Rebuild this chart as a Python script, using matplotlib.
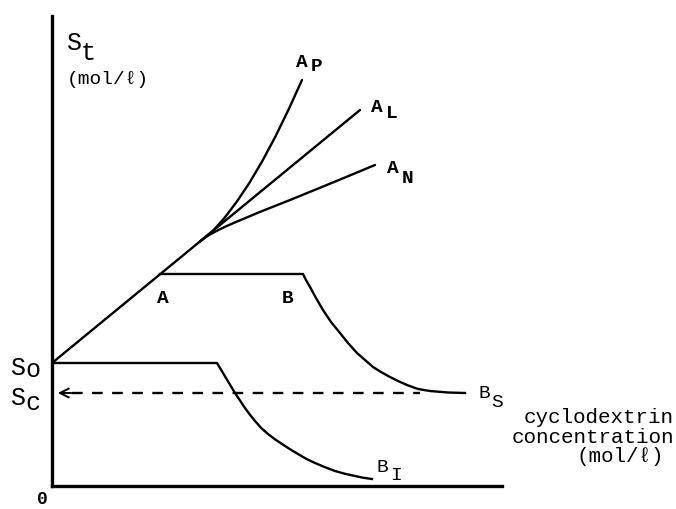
import numpy as np
import matplotlib
matplotlib.use("Agg")
import matplotlib.pyplot as plt

# Phase solubility diagram (schematic, arbitrary units)
S0 = 12.3          # intrinsic solubility
Sc = 9.3           # solubility of the complex

# A-type branches
AL_x = [0, 30.8]
AL_y = [S0, 37.6]
AP_x = [14.8, 16.01, 17.25, 18.50, 19.77, 21.05, 22.35, 23.66, 25.0]
AP_y = [24.46, 25.43, 26.81, 28.46, 30.36, 32.53, 34.96, 37.65, 40.6]
AN_x = [14.8, 15.3, 15.8, 16.5, 17.3, 18.3, 20.8, 23.8, 26.5, 29.3, 32.3]
AN_y = [24.46, 24.83, 25.15, 25.53, 25.92, 26.36, 27.41, 28.6, 29.7, 30.85, 32.1]

# B_S type: plateau A-B then drop to Sc
BS_x = [10.8, 25.1, 25.4, 25.8, 26.4, 27.1, 27.9, 28.8, 29.6, 30.5, 31.3, 32.1,
        32.9, 33.8, 34.6, 35.5, 36.6, 37.8, 39.6, 41.3]
BS_y = [21.2, 21.2, 20.6, 19.9, 18.8, 17.6, 16.4, 15.3, 14.3, 13.3, 12.6, 11.9,
        11.4, 10.9, 10.5, 10.1, 9.7, 9.5, 9.35, 9.3]

# B_I type: plateau at S0 then drop
BI_x = [0, 16.5, 16.95, 17.4, 17.85, 18.3, 18.8, 19.3, 19.8, 20.3, 20.9, 21.6, 22.3,
        23.0, 23.8, 24.6, 25.4, 26.3, 27.3, 28.3, 29.3, 30.3, 31.1, 32.0]
BI_y = [S0, S0, 11.55, 10.8, 10.05, 9.3, 8.55, 7.8, 7.12, 6.5, 5.82, 5.2, 4.67,
        4.2, 3.68, 3.2, 2.73, 2.3, 1.88, 1.5, 1.22, 1.0, 0.83, 0.7]

Sc_line_x = [0.3, 36.8]

fam = ['Liberation Mono', 'DejaVu Sans Mono']
plt.rcParams['font.family'] = fam

fig = plt.figure(figsize=(6.76, 5.09), dpi=100)
ax = fig.add_axes([52/676, 23/509, 450/676, 470/509])
ax.set_xlim(0, 45)
ax.set_ylim(0, 47)
for s in ['top', 'right']:
    ax.spines[s].set_visible(False)
for s in ['left', 'bottom']:
    ax.spines[s].set_linewidth(2.4)
ax.set_xticks([])
ax.set_yticks([])

lw = 1.7
ax.plot(AL_x, AL_y, color='k', lw=lw, solid_capstyle='round')
ax.plot(AP_x, AP_y, color='k', lw=lw, solid_capstyle='round')
ax.plot(AN_x, AN_y, color='k', lw=lw, solid_capstyle='round')
ax.plot(BS_x, BS_y, color='k', lw=lw, solid_joinstyle='round')
ax.plot(BI_x, BI_y, color='k', lw=lw, solid_joinstyle='round')

# dashed Sc line with arrow head at the axis
ax.plot([2.0, Sc_line_x[1]], [Sc, Sc], color='k', lw=1.7, ls=(0, (4.5, 4)))
ax.annotate('', xy=(Sc_line_x[0], Sc), xytext=(2.2, Sc),
            arrowprops=dict(arrowstyle='->', lw=1.4, color='k', mutation_scale=16))


def lab(x, y, main, sub, dx, dy, size=14, weight='bold'):
    ax.text(x, y, main, fontsize=size, fontweight=weight, ha='left', va='baseline',
            clip_on=False)
    if sub:
        ax.text(x + dx, y - dy, sub, fontsize=size, fontweight=weight, ha='left',
                va='baseline', clip_on=False)


lab(1.4, 43.6, 'S', 't', 1.5, 1.0, size=18, weight='normal')
ax.text(1.5, 40.2, '(mol/ℓ)', fontsize=14, ha='left', va='baseline', clip_on=False)
lab(24.4, 41.9, 'A', 'P', 1.5, 0.4)
lab(31.9, 37.4, 'A', 'L', 1.5, 0.6)
lab(33.5, 31.3, 'A', 'N', 1.5, 1.0)
lab(10.5, 18.3, 'A', None, 0, 0)
lab(23.0, 18.3, 'B', None, 0, 0)
lab(42.7, 8.8, 'B', 'S', 1.2, 0.9, size=14, weight='normal')
lab(32.4, 1.4, 'B', 'I', 1.4, 0.8, size=14, weight='normal')
lab(-4.2, 11.1, 'S', 'o', 1.5, 0.2, size=18, weight='normal')
lab(-4.2, 8.1, 'S', 'c', 1.5, 0.5, size=18, weight='normal')
ax.text(-1.5, -2.25, '0', fontsize=13, fontweight='bold', ha='left', va='bottom',
        clip_on=False)

ax.text(62.2, 6.3, 'cyclodextrin', fontsize=15, ha='right', va='baseline', clip_on=False)
ax.text(62.2, 4.3, 'concentration', fontsize=15, ha='right', va='baseline', clip_on=False)
ax.text(61.2, 2.4, '(mol/ℓ)', fontsize=15, ha='right', va='baseline', clip_on=False)

fig.savefig('out.png', dpi=100)
